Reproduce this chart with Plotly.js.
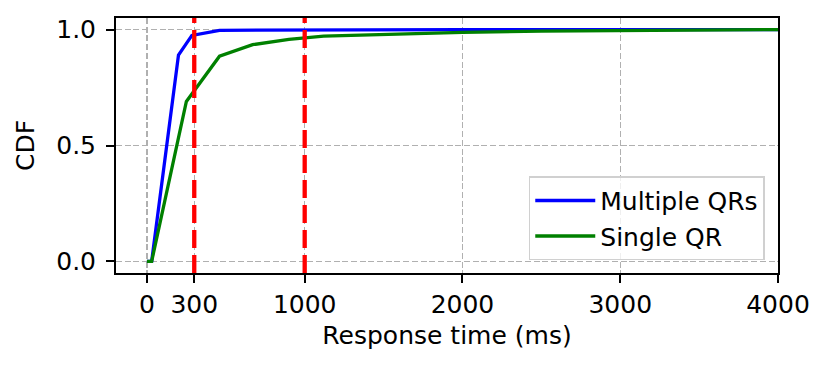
<!DOCTYPE html>
<html>
<head>
<meta charset="utf-8">
<script src="https://cdn.plot.ly/plotly-3.0.1.min.js"></script>
<style>html,body{margin:0;padding:0;background:#fff;}#chart{width:831px;height:373px;}</style>
</head>
<body>
<div id="chart"></div>
<script>
// Data
const multipleX = [0, 30, 200, 285, 460, 1000, 2000, 3000, 4000];
const multipleY = [0, 0, 0.89, 0.975, 0.997, 0.999, 1.0, 1.0, 1.0];
const singleX = [0, 30, 250, 460, 670, 900, 1120, 1500, 2000, 2500, 3000, 4000];
const singleY = [0, 0, 0.69, 0.885, 0.935, 0.958, 0.972, 0.979, 0.988, 0.993, 0.996, 1.0];
const thresholds = [300, 1000];
const xTicks = [0, 300, 1000, 2000, 3000, 4000];
const yTicks = [0, 0.5, 1];
const yTickText = ["0.0", "0.5", "1.0"];

const font = {family: "DejaVu Sans", size: 25, color: "#000"};

const traces = [
  {x: multipleX, y: multipleY, mode: "lines", name: "Multiple QRs",
   line: {color: "#0000ff", width: 3.3}},
  {x: singleX, y: singleY, mode: "lines", name: "Single QR",
   line: {color: "#008000", width: 3.3}}
];

const shapes = thresholds.map(t => ({
  type: "line", xref: "x", yref: "paper", x0: t, x1: t, y0: 0, y1: 1,
  line: {color: "#ff0000", width: 4.3, dash: "18px,7px"}, layer: "above"
}));

const axisCommon = {
  showline: true, mirror: true, linecolor: "#000", linewidth: 2,
  ticks: "outside", ticklen: 8, tickwidth: 2, tickcolor: "#000",
  showgrid: true, gridcolor: "#b0b0b0", gridwidth: 1.3, griddash: "6px,2.7px",
  zeroline: false, tickfont: font, automargin: false
};

const layout = {
  width: 831, height: 373,
  margin: {l: 116, r: 53, t: 18, b: 100},
  paper_bgcolor: "#fff", plot_bgcolor: "#fff",
  font: font,
  showlegend: true,
  legend: {x: 0.98, y: 0.05, xanchor: "right", yanchor: "bottom",
           bgcolor: "rgba(255,255,255,0.8)", bordercolor: "#d0d0d0", borderwidth: 1.5,
           itemwidth: 60,
           font: {family: "DejaVu Sans", size: 25, color: "#000"}, tracegroupgap: 2},
  xaxis: Object.assign({}, axisCommon, {
    range: [-196, 4000], tickmode: "array", tickvals: xTicks,
    ticktext: xTicks.map(String),
    title: {text: "Response time (ms)", font: font, standoff: 8}
  }),
  yaxis: Object.assign({}, axisCommon, {
    range: [-0.05, 1.05], tickmode: "array", tickvals: yTicks, ticktext: yTickText,
    ticklabelstandoff: 5,
    title: {text: "CDF", font: font, standoff: 14}
  }),
  shapes: shapes
};

Plotly.newPlot("chart", traces, layout, {displayModeBar: false, staticPlot: true});
</script>
</body>
</html>
